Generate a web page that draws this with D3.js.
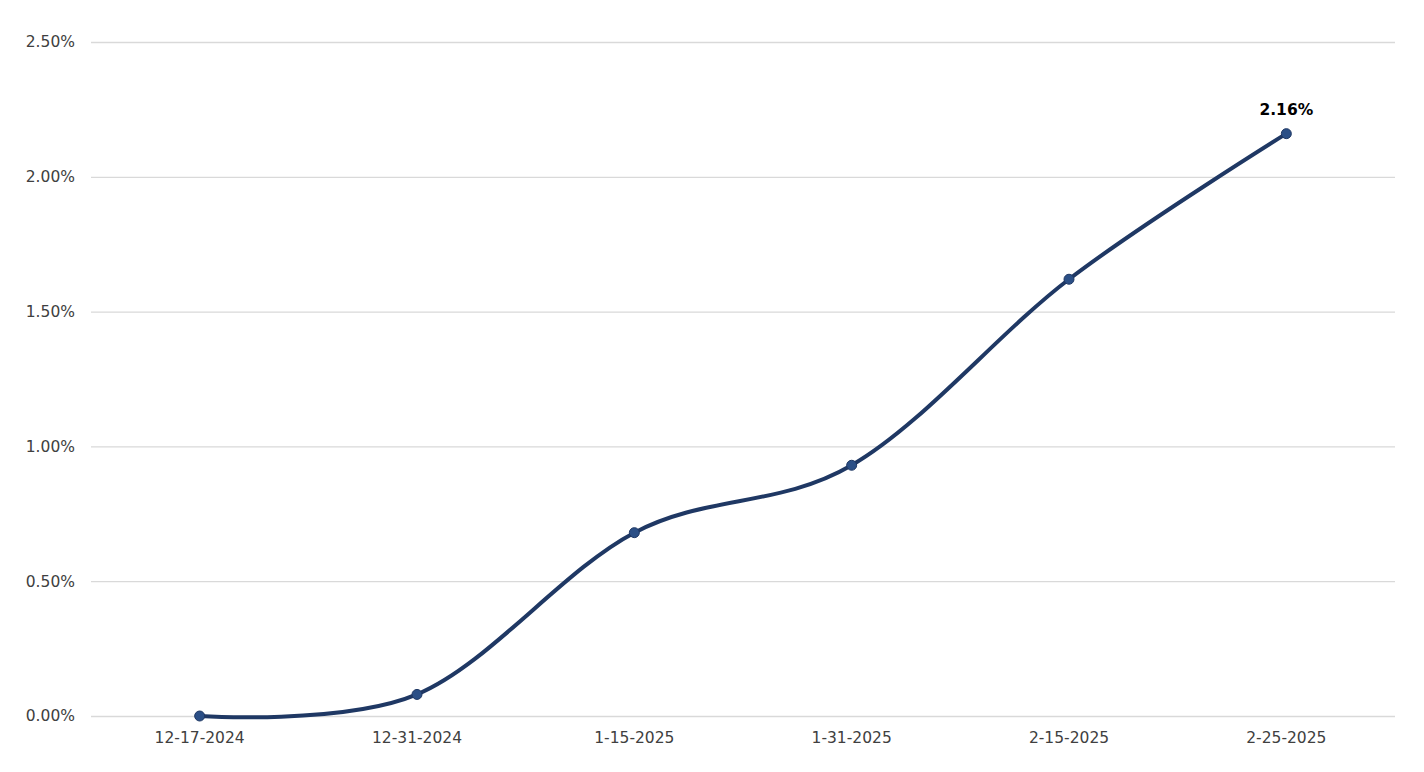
<!DOCTYPE html>
<html><head><meta charset="utf-8">
<script src="https://cdn.jsdelivr.net/npm/d3@7"></script>
<style>body{margin:0;background:#fff}svg{display:block}</style>
</head><body>
<svg id="c" width="1424" height="772"></svg>
<script>
const categories = ["12-17-2024","12-31-2024","1-15-2025","1-31-2025","2-15-2025","2-25-2025"];
const values = [0.0, 0.08, 0.68, 0.93, 1.62, 2.16];
const yTicks = [0, 0.5, 1.0, 1.5, 2.0, 2.5];
const labelIndex = [5];

(function(){
const svg = d3.select("#c");
const mLeft = 91, mRight = 1395, mTop = 42, mBottom = 716;
const font = "'DejaVu Sans', sans-serif";

const x = d3.scaleBand().domain(categories).range([mLeft, mRight]);
const y = d3.scaleLinear().domain([0, 2.5]).range([mBottom, mTop]);

const yAxis = d3.axisLeft(y).tickValues(yTicks).tickSize(-(mRight-mLeft)).tickPadding(16)
  .tickFormat(d => d.toFixed(2) + "%");
const gy = svg.append("g").attr("transform", `translate(${mLeft},0)`).call(yAxis);
gy.select(".domain").remove();
gy.selectAll(".tick line").attr("stroke", "#d9d9d9").attr("stroke-width", 1.3);
gy.selectAll(".tick text").attr("fill", "#404040").style("font-family", font).style("font-size", "15.5px");

const xAxis = d3.axisBottom(x).tickSize(0).tickPadding(16);
const gx = svg.append("g").attr("transform", `translate(0,${mBottom})`).call(xAxis);
gx.select(".domain").remove();
gx.selectAll(".tick text").attr("fill", "#404040").style("font-family", font).style("font-size", "15.5px");

const cx = c => x(c) + x.bandwidth()/2;
const line = d3.line().x((d,i) => cx(categories[i])).y(d => y(d)).curve(d3.curveCatmullRom.alpha(0));
svg.append("path").datum(values).attr("d", line).attr("fill", "none")
  .attr("stroke", "#1f3864").attr("stroke-width", 4).attr("stroke-linecap", "round");

svg.selectAll("circle.pt").data(values).enter().append("circle").attr("class","pt")
  .attr("cx", (d,i) => cx(categories[i])).attr("cy", d => y(d)).attr("r", 5)
  .attr("fill", "#2b4f86").attr("stroke", "#1f3864").attr("stroke-width", 1);

svg.selectAll("text.lbl").data(labelIndex).enter().append("text").attr("class","lbl")
  .attr("x", i => cx(categories[i])).attr("y", i => y(values[i]) - 19)
  .attr("text-anchor", "middle").attr("fill", "#000").style("font-family", font)
  .style("font-size", "15.5px").style("font-weight", "bold")
  .text(i => values[i].toFixed(2) + "%");
})();
</script>
</body></html>
